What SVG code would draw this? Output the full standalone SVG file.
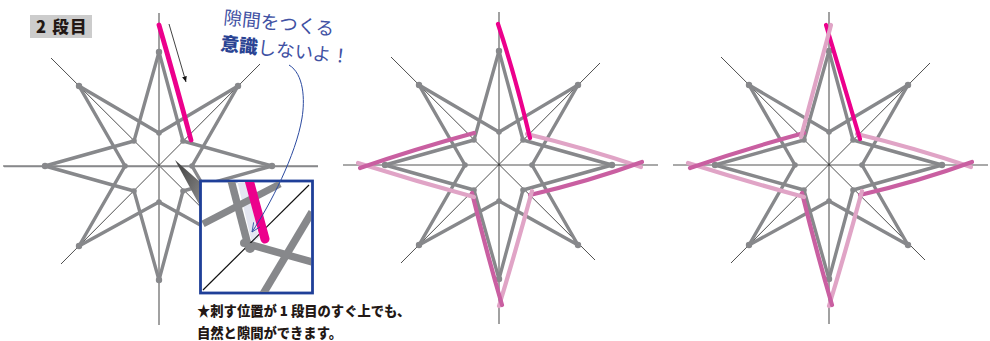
<svg xmlns="http://www.w3.org/2000/svg" xmlns:xlink="http://www.w3.org/1999/xlink" width="990" height="341" viewBox="0 0 990 341">
<style>
.ax{stroke:#555;stroke-width:1.100;fill:none}
.dg{stroke:#222;stroke-width:.8;fill:none}
.st{stroke:#87888b;stroke-width:3.400;fill:none;stroke-linejoin:round}
.hot{stroke:#ec008c;fill:none;stroke-linecap:round}
.lt{stroke:#e0a4c6;stroke-width:4.200;fill:none;stroke-linecap:round}
.dk{stroke:#c95fa1;stroke-width:4.200;fill:none;stroke-linecap:round}
.jp{font-family:"Noto Sans CJK JP","Noto Sans",sans-serif}
.blue{fill:#3f51a3;font-size:18.600px}
.note{fill:#231815;font-size:13.300px;font-weight:900}
</style>
<defs>
<g id="star">
<path class="ax" d="M0-153V159M-156 0H159"/>
<path class="dg" d="M-108-108L96 95M101-102L-98 98"/>
<path class="st" d="M0-114L24-25L113 0L24 25L0 114L-25 25L-114 0L-25-25Z"/>
<path class="st" d="M-80-80L0-33L79-80L33 0L79 80L0 36L-80 80L-34 0Z"/>
<g fill="#87888b"><circle cy="-114" r="3.200"/><circle cx="113" r="3.200"/><circle cy="114" r="3.200"/><circle cx="-114" r="3.200"/><circle cx="-80" cy="-80" r="3.200"/><circle cx="79" cy="-80" r="3.200"/><circle cx="-80" cy="80" r="3.200"/><circle cx="79" cy="80" r="3.200"/><circle cx="-25" cy="-25" r="2.800"/><circle cx="24" cy="-25" r="2.800"/><circle cx="-25" cy="25" r="2.800"/><circle cx="24" cy="25" r="2.800"/><circle cy="-33" r="2.800"/><circle cx="-34" r="2.800"/><circle cx="33" r="2.800"/><circle cy="36" r="2.800"/></g>
</g>
<g id="pinks">
<path class="lt" d="M527 134Q585 148 641 167"/>
<path class="dk" d="M642 162Q590 181 530 195"/>
<path class="lt" d="M532 191Q516 250 499 306"/>
<path class="dk" d="M502 305Q486 250 472 193"/>
<path class="lt" d="M474 197Q415 181 358 163"/>
<path class="dk" d="M360 168Q415 149 474 133"/>
</g>
<linearGradient id="wedge" x1="0" y1="0" x2="1" y2="1"><stop offset="0" stop-color="#3c3c3c"/><stop offset="1" stop-color="#8a8a8a"/></linearGradient>
<clipPath id="inset"><rect x="202" y="182" width="109" height="110"/></clipPath>
<marker id="tip" markerWidth="8" markerHeight="8" refX="7" refY="3" orient="auto"><path d="M0 0L7 3L0 6Z" fill="#111"/></marker>
<marker id="open" markerWidth="12" markerHeight="10" refX="9" refY="4" orient="auto" markerUnits="userSpaceOnUse"><path d="M0 0L9 4L0 8" fill="none" stroke="#2b4aa0" stroke-width=".8"/></marker>
</defs>

<g id="star-1">
<use xlink:href="#star" href="#star" x="159" y="166"/>
<path d="M4 166.500H318" stroke="#87888b" stroke-width="1.400" fill="none"/>
<path class="hot" stroke-width="4.800" d="M159 25Q175 80 191 140"/>
</g>
<g id="star-2">
<use xlink:href="#star" href="#star" x="499" y="165"/>
<use xlink:href="#pinks" href="#pinks"/>
<path class="hot" stroke-width="4.200" d="M498 24Q515 75 530 138"/>
</g>
<g id="star-3">
<use xlink:href="#star" href="#star" x="829" y="165"/>
<use xlink:href="#pinks" href="#pinks" x="330"/>
<path class="hot" stroke-width="4.200" d="M826 25L860 139"/>
<path class="lt" d="M831 25L801 137"/>
</g>

<g id="label-step">
<rect x="30" y="15" width="62" height="23" fill="#ccc"/>
<text class="jp" x="36" y="33" font-size="16.500" font-weight="900" fill="#231815" letter-spacing="1.200">2 段目</text>
</g>

<g id="detail-inset">
<path d="M175 160L200 182L200 206Z" fill="url(#wedge)"/>
<rect x="200.500" y="181" width="112" height="112" fill="#fff" stroke="#1f3f98" stroke-width="2.800"/>
<g clip-path="url(#inset)">
<path d="M237 180L246 180L259 238L252 243Z" fill="#e4e6f1"/>
<path d="M203 224L280 184" stroke="#87888b" stroke-width="7" fill="none"/>
<path d="M231 180L249 249" stroke="#87888b" stroke-width="7.500" fill="none"/>
<path d="M248 244L312 262" stroke="#87888b" stroke-width="7.500" fill="none"/>
<path d="M263 294L312 212" stroke="#87888b" stroke-width="7.500" fill="none"/>
<path d="M203 290L309 185" stroke="#111" stroke-width="1.200" fill="none"/>
<circle cx="250" cy="248" r="5" fill="#87888b"/><circle cx="244" cy="243" r="4" fill="#87888b"/>
<path d="M248 176L265 239" stroke="#ec008c" stroke-width="9" stroke-linecap="round" fill="none"/>
</g>
</g>

<g id="connectors">
<path d="M169 24L186 82" stroke="#111" stroke-width=".8" fill="none" marker-end="url(#tip)"/>
<path d="M289 65C304 74 305 100 302 118C296 155 270 205 252 232" stroke="#2b4aa0" stroke-width="1" fill="none" marker-end="url(#open)"/>
</g>

<g id="callout">
<text class="jp blue" transform="translate(223 24) rotate(6)">隙間をつくる</text>
<text class="jp blue" transform="translate(220 50) rotate(6)"><tspan font-weight="900" fill="#2a4393">意識</tspan>しないよ！</text>
</g>
<g id="note">
<text class="jp note" x="197" y="316">★刺す位置が 1 段目のすぐ上でも、</text>
<text class="jp note" x="197" y="338">自然と隙間ができます。</text>
</g>
</svg>
